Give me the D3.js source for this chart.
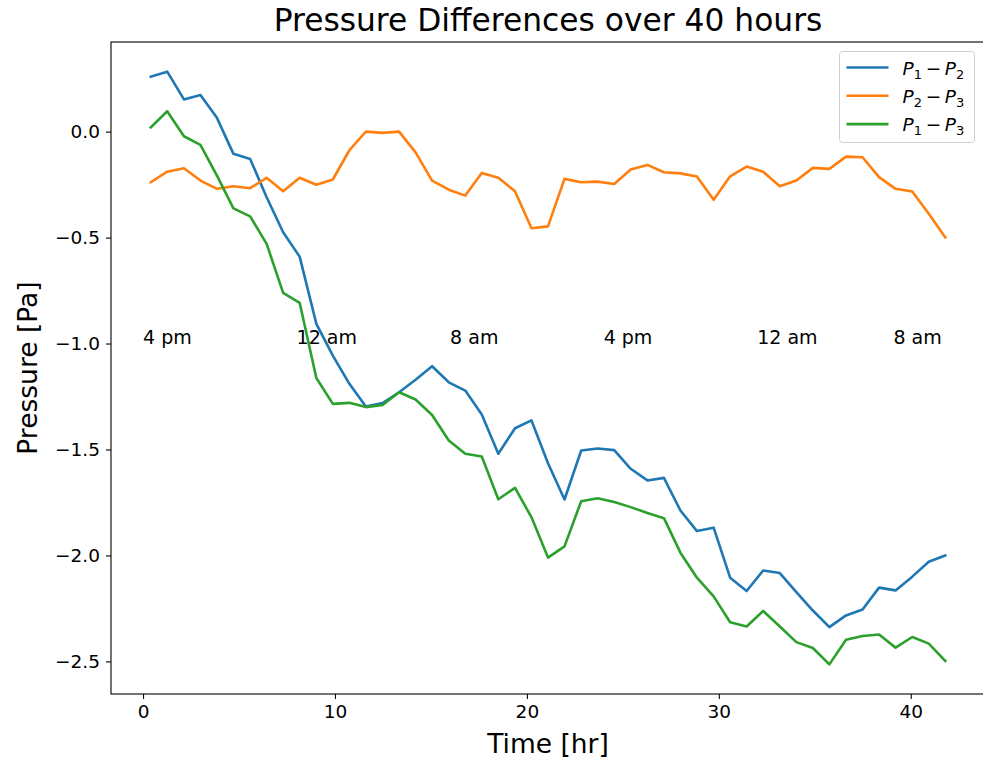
<!DOCTYPE html>
<html>
<head>
<meta charset="utf-8">
<script src="https://cdn.jsdelivr.net/npm/d3@7"></script>
<style>
  body { margin: 0; background: white; }
  text { font-family: "DejaVu Sans", sans-serif; fill: #000; }
</style>
</head>
<body>
<div id="vis"></div>
<script>
// data
let hours = [0.40, 1.26, 2.13, 2.99, 3.85, 4.71, 5.58, 6.44, 7.30, 8.16, 9.03, 9.89, 10.75, 11.61,
  12.48, 13.34, 14.20, 15.06, 15.93, 16.79, 17.65, 18.51, 19.38, 20.24, 21.10, 21.96, 22.83, 23.69,
  24.55, 25.41, 26.28, 27.14, 28.00, 28.86, 29.73, 30.59, 31.45, 32.31, 33.18, 34.04, 34.90, 35.76,
  36.63, 37.49, 38.35, 39.21, 40.08, 40.94, 41.80];

let p12 = [0.259, 0.283, 0.152, 0.173, 0.065, -0.105, -0.129, -0.31, -0.475, -0.59, -0.907, -1.057,
  -1.19, -1.297, -1.281, -1.23, -1.171, -1.107, -1.183, -1.222, -1.335, -1.52, -1.40, -1.363, -1.565,
  -1.736, -1.505, -1.495, -1.503, -1.591, -1.646, -1.634, -1.788, -1.885, -1.869, -2.105, -2.168,
  -2.071, -2.083, -2.173, -2.26, -2.338, -2.283, -2.255, -2.152, -2.165, -2.10, -2.03, -2.0];

let p23 = [-0.239, -0.189, -0.173, -0.231, -0.27, -0.258, -0.267, -0.218, -0.281, -0.218, -0.251,
  -0.226, -0.088, 0.0, -0.006, 0.0, -0.098, -0.231, -0.274, -0.302, -0.195, -0.218, -0.281, -0.456,
  -0.447, -0.223, -0.239, -0.236, -0.247, -0.179, -0.157, -0.192, -0.197, -0.212, -0.322, -0.211,
  -0.165, -0.189, -0.258, -0.231, -0.171, -0.176, -0.118, -0.121, -0.215, -0.27, -0.283, -0.388, -0.499];

let p13 = [0.02, 0.096, -0.022, -0.063, -0.208, -0.362, -0.40, -0.53, -0.761, -0.808, -1.163, -1.285,
  -1.28, -1.30, -1.29, -1.23, -1.264, -1.337, -1.458, -1.52, -1.533, -1.735, -1.681, -1.82, -2.01,
  -1.957, -1.744, -1.73, -1.748, -1.772, -1.80, -1.824, -1.987, -2.105, -2.193, -2.315, -2.335,
  -2.262, -2.335, -2.409, -2.437, -2.514, -2.398, -2.38, -2.373, -2.435, -2.385, -2.416, -2.498];

let seriesNames = [['P', '1', 'P', '2'], ['P', '2', 'P', '3'], ['P', '1', 'P', '3']];
let seriesColors = ['#1f77b4', '#ff7f0e', '#2ca02c'];

let clockLabels = ['4 pm', '12 am', '8 am', '4 pm', '12 am', '8 am'];
let clockHours = [0, 8, 16, 24, 32, 39.1];
let clockLevel = -1.0;

let xTicks = [0, 10, 20, 30, 40];
let yTicks = [0.0, -0.5, -1.0, -1.5, -2.0, -2.5];

let W = 983, H = 759;
let margin = { top: 42, left: 111, right: -2, bottom: 65 };

let svg = d3.select('#vis')
  .append('svg')
  .attr('width', W)
  .attr('height', H)
  .style('display', 'block');

// matplotlib style 5% padding
let xExt = d3.extent(hours);
let xPad = (xExt[1] - xExt[0]) * 0.05;
let allY = p12.concat(p23, p13);
let yExt = d3.extent(allY);
let yPad = (yExt[1] - yExt[0]) * 0.05;

let x = d3.scaleLinear()
  .domain([xExt[0] - xPad, xExt[1] + xPad])
  .range([margin.left, W - margin.right]);
let y = d3.scaleLinear()
  .domain([yExt[0] - yPad, yExt[1] + yPad])
  .range([H - margin.bottom, margin.top]);

let series = [p12, p23, p13];
let line = d3.line()
  .x((d, i) => x(hours[i]))
  .y(d => y(d));

series.forEach((vals, k) => {
  svg.append('path')
    .datum(vals)
    .attr('d', line)
    .attr('fill', 'none')
    .attr('stroke', seriesColors[k])
    .attr('stroke-width', 2.6)
    .attr('stroke-linejoin', 'round')
    .attr('stroke-linecap', 'square');
});

// time of day annotations
svg.selectAll('.clock')
  .data(clockLabels)
  .enter()
  .append('text')
  .attr('class', 'clock')
  .attr('x', (d, i) => x(clockHours[i]))
  .attr('y', y(clockLevel))
  .style('font-size', '19px')
  .text(d => d);

// axes
let xAxis = d3.axisBottom(x).tickValues(xTicks).tickSize(5).tickPadding(6)
  .tickFormat(d3.format('d'));
let yAxis = d3.axisLeft(y).tickValues(yTicks).tickSize(5).tickPadding(6)
  .tickFormat(d => d3.format('.1f')(d).replace('-', '\u2212'));

let gx = svg.append('g')
  .attr('transform', `translate(0,${H - margin.bottom})`)
  .call(xAxis);
let gy = svg.append('g')
  .attr('transform', `translate(${margin.left},0)`)
  .call(yAxis);

[gx, gy].forEach(g => {
  g.select('.domain').remove();
  g.selectAll('line').attr('stroke', '#000').attr('stroke-width', 1.1);
  g.selectAll('text').style('font-size', '18.5px').style('font-family', '"DejaVu Sans", sans-serif').attr('fill', '#000');
});

// frame
svg.append('rect')
  .attr('x', margin.left)
  .attr('y', margin.top)
  .attr('width', W - margin.right - margin.left)
  .attr('height', H - margin.bottom - margin.top)
  .attr('fill', 'none')
  .attr('stroke', '#000')
  .attr('stroke-width', 1.1);

// titles
svg.append('text')
  .attr('x', (margin.left + W - margin.right) / 2)
  .attr('y', 31)
  .attr('text-anchor', 'middle')
  .style('font-size', '31.3px')
  .text('Pressure Differences over 40 hours');

svg.append('text')
  .attr('x', (margin.left + W - margin.right) / 2)
  .attr('y', 753)
  .attr('text-anchor', 'middle')
  .style('font-size', '26.5px')
  .text('Time [hr]');

svg.append('text')
  .attr('transform', `translate(37,${(margin.top + H - margin.bottom) / 2}) rotate(-90)`)
  .attr('text-anchor', 'middle')
  .style('font-size', '26.5px')
  .text('Pressure [Pa]');

// legend
let legend = svg.append('g').attr('transform', 'translate(839.5,51.5)');
legend.append('rect')
  .attr('width', 135)
  .attr('height', 91)
  .attr('rx', 3)
  .attr('fill', 'white')
  .attr('fill-opacity', 0.8)
  .attr('stroke', '#d0d0d0')
  .attr('stroke-width', 1);

seriesNames.forEach((nm, k) => {
  let row = legend.append('g').attr('transform', `translate(0,${16 + k * 28.3})`);
  row.append('line')
    .attr('x1', 7).attr('x2', 49)
    .attr('stroke', seriesColors[k])
    .attr('stroke-width', 2.6);
  let t = row.append('text')
    .attr('x', 63)
    .attr('y', 7)
    .style('font-size', '18.5px');
  t.append('tspan').style('font-style', 'italic').text(nm[0]);
  t.append('tspan').attr('dy', 4).style('font-size', '13px').text(nm[1]);
  t.append('tspan').attr('dy', -4).text('\u2009\u2212\u2009');
  t.append('tspan').style('font-style', 'italic').text(nm[2]);
  t.append('tspan').attr('dy', 4).style('font-size', '13px').text(nm[3]);
});
</script>
</body>
</html>
